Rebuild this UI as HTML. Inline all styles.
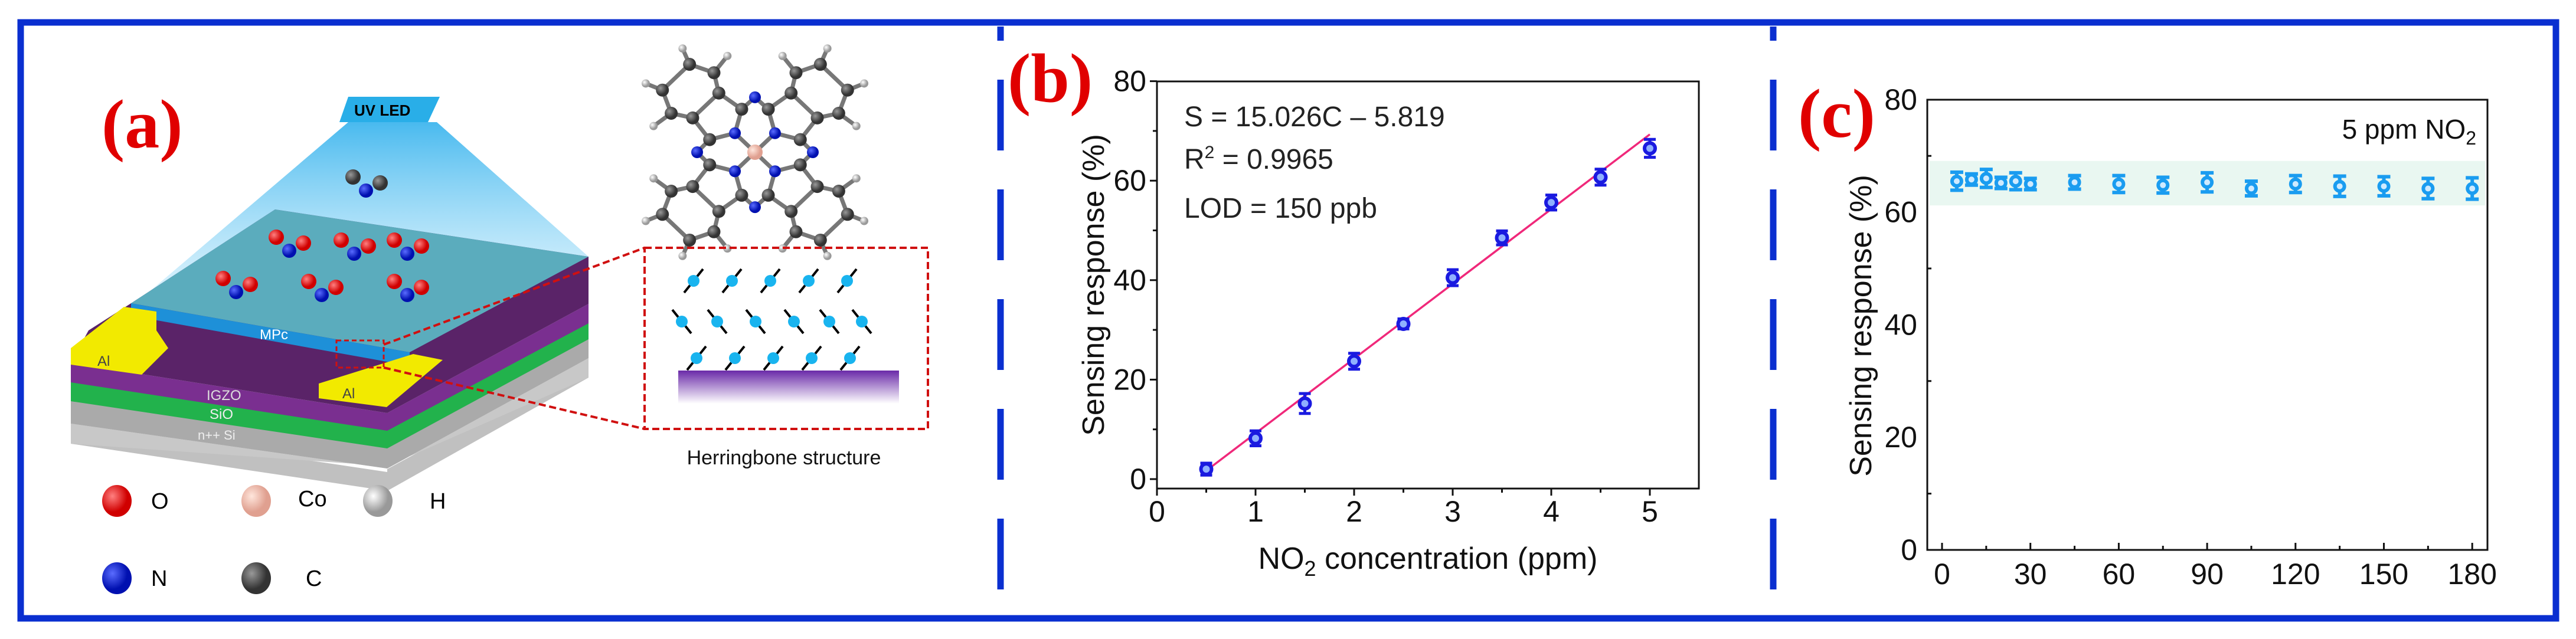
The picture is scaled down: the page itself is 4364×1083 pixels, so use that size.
<!DOCTYPE html>
<html><head><meta charset="utf-8"><style>
html,body{margin:0;padding:0;background:#fff;}
svg{display:block;font-family:"Liberation Sans",Arial,sans-serif;}
</style></head><body>
<svg id="fig" width="4364" height="1083" viewBox="0 0 4364 1083" xmlns="http://www.w3.org/2000/svg">
<defs>
<linearGradient id="cone" x1="0" y1="0" x2="0" y2="1"><stop offset="0" stop-color="#3fb6ee" stop-opacity="0.95"/><stop offset="1" stop-color="#bfe9fb" stop-opacity="0.5"/></linearGradient>
<linearGradient id="sub" x1="0" y1="0" x2="0" y2="1"><stop offset="0" stop-color="#6a2aa8"/><stop offset="1" stop-color="#ffffff"/></linearGradient>
<radialGradient id="gO" cx="0.35" cy="0.35"><stop offset="0" stop-color="#ff8080"/><stop offset="1" stop-color="#d00000"/></radialGradient>
<radialGradient id="gN" cx="0.35" cy="0.35"><stop offset="0" stop-color="#5a6cff"/><stop offset="1" stop-color="#0010b0"/></radialGradient>
<radialGradient id="gCo" cx="0.35" cy="0.35"><stop offset="0" stop-color="#ffe6dc"/><stop offset="1" stop-color="#e0a090"/></radialGradient>
<radialGradient id="gH" cx="0.35" cy="0.35"><stop offset="0" stop-color="#ffffff"/><stop offset="1" stop-color="#999"/></radialGradient>
<radialGradient id="gC" cx="0.35" cy="0.35"><stop offset="0" stop-color="#999"/><stop offset="1" stop-color="#333"/></radialGradient>
</defs>
<rect x="35" y="38" width="4295" height="1010" fill="none" stroke="#0a2fd0" stroke-width="11"/>
<line x1="1695" y1="45" x2="1695" y2="1045" stroke="#0a2fd0" stroke-width="11" stroke-dasharray="120 66" stroke-dashoffset="-90"/>
<line x1="3004" y1="45" x2="3004" y2="1045" stroke="#0a2fd0" stroke-width="11" stroke-dasharray="120 66" stroke-dashoffset="-90"/>

<g>
<text x="172" y="250" font-family="Liberation Serif,serif" font-weight="bold" font-size="118" fill="#e00000">(a)</text>
<polygon points="230,514 590,207 740,207 997,435" fill="url(#cone)"/>
<polygon points="590,164 745,164 725,207 575,207" fill="#29aee8"/>
<text x="600" y="196" font-size="26" font-weight="bold" fill="#000">UV LED</text>
<polygon points="120,720 656,800 656,795 997,610 997,640 656,832 120,752" fill="#c0c0c0"/>
<polygon points="120,718 656,794 997,607 997,640 656,790 120,752" fill="#c8c8c8"/>
<polygon points="120,650 656,735 997,555 997,607 656,794 120,718" fill="#aaaaaa"/>
<polygon points="120,645 656,728 997,545 997,575 656,760 120,680" fill="#22b24c"/>
<polygon points="120,615 656,700 997,515 997,548 656,730 120,648" fill="#7a2f90"/>
<polygon points="222,514 466,355 997,435 997,515 656,700 120,615 150,560" fill="#5a2368"/>
<polygon points="222,514 466,355 997,435 694,597" fill="#5cc4cc" fill-opacity="0.85"/>
<polygon points="222,514 694,597 694,620 222,535" fill="#1e90d8"/>
<text x="440" y="575" font-size="24" fill="#fff">MPc</text>
<polygon points="120,590 210,520 265,528 265,560 285,590 240,635 120,618" fill="#f2ea00"/>
<text x="165" y="620" font-size="24" fill="#444">Al</text>
<polygon points="540,650 700,600 750,610 655,690 540,675" fill="#f2ea00"/>
<text x="580" y="675" font-size="24" fill="#444">Al</text>
<text x="350" y="678" font-size="24" fill="#ddd">IGZO</text>
<text x="355" y="710" font-size="24" fill="#eee">SiO</text>
<text x="335" y="745" font-size="22" fill="#eee">n++ Si</text>
</g>
<g id="molecules"></g>
<g id="pc"></g>
<rect x="1092" y="420" width="480" height="307" fill="none" stroke="#d01010" stroke-width="4" stroke-dasharray="12 6"/>
<rect x="570" y="577" width="80" height="46" fill="none" stroke="#d01010" stroke-width="3" stroke-dasharray="8 5"/>
<line x1="650" y1="584" x2="1092" y2="420" stroke="#d01010" stroke-width="4" stroke-dasharray="12 6"/>
<line x1="650" y1="623" x2="1092" y2="727" stroke="#d01010" stroke-width="4" stroke-dasharray="12 6"/>
<rect x="1149" y="628" width="374" height="56" fill="url(#sub)"/>
<g id="herring"></g>
<text x="1328" y="787" text-anchor="middle" font-size="34" fill="#111">Herringbone structure</text>
<g>
<ellipse cx="198" cy="849" rx="25" ry="27" fill="url(#gO)"/><text x="256" y="862" font-size="38">O</text>
<ellipse cx="434" cy="849" rx="25" ry="27" fill="url(#gCo)"/><text x="505" y="858" font-size="38">Co</text>
<ellipse cx="640" cy="849" rx="25" ry="27" fill="url(#gH)"/><text x="728" y="862" font-size="38">H</text>
<ellipse cx="198" cy="980" rx="25" ry="27" fill="url(#gN)"/><text x="256" y="993" font-size="38">N</text>
<ellipse cx="434" cy="980" rx="25" ry="27" fill="url(#gC)"/><text x="518" y="993" font-size="38">C</text>
</g>

<text x="1707" y="172" font-family="Liberation Serif,serif" font-weight="bold" font-size="118" fill="#e00000">(b)</text>
<g id="chartB"></g>
<text x="3046" y="232" font-family="Liberation Serif,serif" font-weight="bold" font-size="118" fill="#e00000">(c)</text>
<g id="chartC"></g>
</svg>
<script>
const NS='http://www.w3.org/2000/svg';
// chart b data
const concB=[0.5,1,1.5,2,2.5,3,3.5,4,4.5,5];
const respB=[2.0,8.2,15.2,23.7,31.2,40.5,48.5,55.6,60.7,66.5];
const errB=[1.2,1.5,2.0,1.6,1.0,1.6,1.4,1.5,1.6,1.8];
const fitSlope=15.026, fitIntercept=-5.819;
const xTicksB=[0,1,2,3,4,5];
const yTicksB=[0,20,40,60,80];
// chart c data
const timeC=[5,10,15,20,25,30,45,60,75,90,105,120,135,150,165,180];
const respC=[65.5,65.8,66.0,65.2,65.5,65.0,65.3,65.0,64.8,65.3,64.2,65.0,64.6,64.6,64.2,64.2];
const errC=[1.6,1.0,1.6,1.0,1.5,1.0,1.2,1.5,1.4,1.7,1.3,1.5,1.8,1.7,1.8,1.9];
const xTicksC=[0,30,60,90,120,150,180];
const yTicksC=[0,20,40,60,80];
const bandC=[61.2,69.1];

function el(parent,tag,attrs,text){const e=document.createElementNS(NS,tag);for(const k in attrs)e.setAttribute(k,attrs[k]);if(text!==undefined)e.textContent=text;parent.appendChild(e);return e;}

(function(){
const g=document.getElementById('chartB');
const X=v=>1960+v*167, Y=v=>812-v*8.43;
const L=1960,R=2878,T=138,B=828;
let r=el(g,'rect',{x:L,y:T,width:R-L,height:B-T,fill:'none',stroke:'#111','stroke-width':3});

for(let v=0;v<=5;v+=0.5){el(g,'line',{x1:X(v),x2:X(v),y1:B,y2:B+(v%1===0?12:7),stroke:'#111','stroke-width':3});}
for(let v=0;v<=80;v+=10){el(g,'line',{x1:L,x2:L-(v%20===0?12:7),y1:Y(v),y2:Y(v),stroke:'#111','stroke-width':3});}
xTicksB.forEach(v=>{let t=el(g,'text',{x:X(v),y:884,'text-anchor':'middle','font-size':50,fill:'#111'},v);});
yTicksB.forEach(v=>{let t=el(g,'text',{x:1942,y:Y(v)+17,'text-anchor':'end','font-size':50,fill:'#111'},v);});
let xt=el(g,'text',{x:2419,y:964,'text-anchor':'middle','font-size':52,fill:'#111'});

xt.innerHTML='NO<tspan font-size="36" dy="12">2</tspan><tspan dy="-12"> concentration (ppm)</tspan>';
let yt=el(g,'text',{x:0,y:0,transform:'translate(1870,483) rotate(-90)','text-anchor':'middle','font-size':52,fill:'#111'},'Sensing response (%)');

const x0=concB[0],x1=concB[concB.length-1];
let fl=el(g,'line',{x1:X(x0),y1:Y(fitSlope*x0+fitIntercept),x2:X(x1),y2:Y(fitSlope*x1+fitIntercept),stroke:'#f0287a','stroke-width':3.5});

concB.forEach((c,i)=>{
 const cx=X(c),cy=Y(respB[i]),e=errB[i]*8.43;
 let eb=el(g,'path',{d:`M${cx},${cy-e}V${cy+e}M${cx-10},${cy-e}H${cx+10}M${cx-10},${cy+e}H${cx+10}`,stroke:'#1a1ae0','stroke-width':5,fill:'none'});
 
 let p=el(g,'circle',{cx:cx,cy:cy,r:9,fill:'#8fb0ff',stroke:'#1a1ae0','stroke-width':6});
 
});
let a1=el(g,'text',{x:2006,y:214,'font-size':48,fill:'#222'},'S = 15.026C – 5.819');

let a2=el(g,'text',{x:2006,y:286,'font-size':48,fill:'#222'});a2.innerHTML='R<tspan font-size="30" dy="-18">2</tspan><tspan dy="18"> = 0.9965</tspan>';

let a3=el(g,'text',{x:2006,y:369,'font-size':48,fill:'#222'},'LOD = 150 ppb');

})();

(function(){
const g=document.getElementById('chartC');
const X=v=>3290+v*4.99, Y=v=>932-v*9.54;
const L=3265,R=4214,T=169,B=932;
let band=el(g,'rect',{x:L+4,y:Y(bandC[1]),width:R-L-8,height:Y(bandC[0])-Y(bandC[1]),fill:'#e9f7f1'});

let r=el(g,'path',{d:`M${L},${T}H${R}V${B}H${L}Z`,fill:'none',stroke:'#111','stroke-width':3});

for(let v=0;v<=180;v+=15){el(g,'line',{x1:X(v),x2:X(v),y1:B,y2:B-(v%30===0?12:7),stroke:'#111','stroke-width':3});}
for(let v=0;v<=80;v+=10){el(g,'line',{x1:L,x2:L+(v%20===0?0:7),y1:Y(v),y2:Y(v),stroke:'#111','stroke-width':3});}
xTicksC.forEach(v=>{let t=el(g,'text',{x:X(v),y:990,'text-anchor':'middle','font-size':50,fill:'#111'},v);});
yTicksC.forEach(v=>{let t=el(g,'text',{x:3248,y:Y(v)+17,'text-anchor':'end','font-size':50,fill:'#111'},v);});
let yt=el(g,'text',{x:0,y:0,transform:'translate(3170,552) rotate(-90)','text-anchor':'middle','font-size':52,fill:'#111'},'Sensing response (%)');

let lab=el(g,'text',{x:4195,y:235,'text-anchor':'end','font-size':46,fill:'#111'});
lab.innerHTML='5 ppm NO<tspan font-size="32" dy="10">2</tspan>';

timeC.forEach((t,i)=>{
 const cx=X(t),cy=Y(respC[i]),e=errC[i]*9.54;
 let eb=el(g,'path',{d:`M${cx},${cy-e}V${cy+e}M${cx-11},${cy-e}H${cx+11}M${cx-11},${cy+e}H${cx+11}`,stroke:'#1a9cf0','stroke-width':6,fill:'none'});
 
 let p=el(g,'circle',{cx:cx,cy:cy,r:8,fill:'#cfeaff',stroke:'#1a9cf0','stroke-width':6});
 
});
})();

(function(){
const m=document.getElementById('molecules');
const mols=[[620,318,0],[490,420,1],[600,425,1],[690,425,1],[400,490,1],[545,495,1],[690,495,1]];
mols.forEach(([x,y,red])=>{
 el(m,'circle',{cx:x-22,cy:y-18,r:13,fill:red?'url(#gO)':'url(#gC)'});
 el(m,'circle',{cx:x+24,cy:y-8,r:13,fill:red?'url(#gO)':'url(#gC)'});
 el(m,'circle',{cx:x,cy:y+5,r:12,fill:'url(#gN)'});
});
// phthalocyanine
const pc=document.getElementById('pc');
const cx=1279,cy=258,sy=0.95;
const P=(r,a)=>[cx+Math.cos(a)*r,cy+Math.sin(a)*r*sy];
const atoms=[],bonds=[];
const add=(p,t)=>{atoms.push([p[0],p[1],t]);return atoms.length-1;};
const co=add([cx,cy],'Co');
const meso=[];
for(let k=0;k<4;k++)meso.push(add(P(98,k*Math.PI/2),'N'));
for(let k=0;k<4;k++){
 const a=Math.PI/4+k*Math.PI/2,d=0.42;
 const n=add(P(48,a),'N');bonds.push([co,n]);
 const a1=add(P(80,a-0.5),'C'),a2=add(P(80,a+0.5),'C');
 const b1=add(P(122,a-0.26),'C'),b2=add(P(122,a+0.26),'C');
 bonds.push([n,a1],[n,a2],[a1,b1],[a2,b2],[b1,b2]);
 const g1=add(P(158,a-0.33),'C'),g2=add(P(158,a+0.33),'C');
 const h1=add(P(192,a-0.17),'C'),h2=add(P(192,a+0.17),'C');
 bonds.push([b1,g1],[b2,g2],[g1,h1],[g2,h2],[h1,h2]);
 const H1=add(P(178,a-0.52),'H'),H2=add(P(178,a+0.52),'H'),H3=add(P(222,a-0.2),'H'),H4=add(P(222,a+0.2),'H');
 bonds.push([g1,H1],[g2,H2],[h1,H3],[h2,H4]);
 // meso links: a1 to meso at angle a-45deg, a2 to meso at a+45deg
 bonds.push([a1,meso[k]],[a2,meso[(k+1)%4]]);
}
bonds.forEach(([i,j])=>el(pc,'line',{x1:atoms[i][0],y1:atoms[i][1],x2:atoms[j][0],y2:atoms[j][1],stroke:'#777','stroke-width':7}));
const fills={C:'url(#gC)',N:'url(#gN)',H:'url(#gH)',Co:'url(#gCo)'},rad={C:11,N:10,H:7,Co:13};
atoms.forEach(([x,y,t])=>el(pc,'circle',{cx:x,cy:y,r:rad[t],fill:fills[t]}));
const h=document.getElementById('herring');
const rows=[[476,[1175,1240,1305,1370,1435],1],[545,[1155,1215,1280,1345,1405,1460],-1],[607,[1180,1245,1310,1375,1440],1]];
rows.forEach(([y,xs,d])=>xs.forEach(x=>{
 el(h,'line',{x1:x-16,y1:y+20*d,x2:x+16,y2:y-20*d,stroke:'#000','stroke-width':4});
 el(h,'circle',{cx:x,cy:y,r:10,fill:'#19b4ef'});
}));
})();
</script>
</body></html>
